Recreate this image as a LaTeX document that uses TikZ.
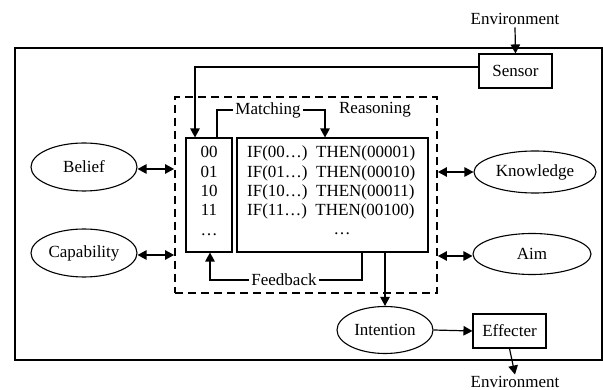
\documentclass[tikz,border=0pt]{standalone}
\usepackage{fontspec}
\setmainfont{Liberation Serif}
\usetikzlibrary{shapes.geometric,arrows.meta,calc}
\begin{document}
\begin{tikzpicture}[x=1pt,y=-1pt,
  every node/.style={font=\fontsize{17}{19}\selectfont},
  line/.style={line width=1.2pt},
  arr/.style={line width=1.2pt,-{Triangle[length=9pt,width=9.5pt]}},
  darr/.style={line width=1.2pt,{Triangle[length=9pt,width=9.5pt]}-{Triangle[length=9pt,width=9.5pt]}},
  oval/.style={draw,line width=1.1pt,ellipse,inner sep=0pt},
  boxn/.style={draw,line width=1.1pt,rectangle,inner sep=0pt},
  txt/.style={inner sep=2pt}]
\useasboundingbox (0,0) rectangle (603,390);
\draw[line width=1.2pt] (15,48) rectangle (602,360);
% dashed frame
\node[draw,line width=1.8pt,dash pattern=on 8pt off 5pt,minimum width=262pt,minimum height=196pt,inner sep=0pt] (frame) at (306,195) {};
% boxes
\node[boxn,minimum width=46pt,minimum height=114pt] (mem) at (209,195) {};
\node[boxn,minimum width=191pt,minimum height=114pt] (rules) at (332.5,195) {};
\foreach \t [count=\i] in {00,01,10,11,…}
  \node[inner sep=0pt,anchor=base] (m\i) at (209,{158+19.3*(\i-1)}) {\t};
\foreach \t [count=\i] in {IF(00…)\ \ THEN(00001),IF(01…)\ \ THEN(00010),IF(10…)\ \ THEN(00011),IF(11…)\ \ THEN(00100)}
  \node[inner sep=0pt,anchor=base west] (r\i) at (247,{158+19.3*(\i-1)}) {\t};
\node[inner sep=0pt,anchor=base] (r5) at (342,235) {…};
% ellipses
\node[oval,minimum width=106pt,minimum height=48pt] (belief) at (84,167) {Belief};
\node[oval,minimum width=106pt,minimum height=48pt] (capab) at (84,253) {Capability};
\node[oval,minimum width=122pt,minimum height=42pt] (know) at (535,172) {Knowledge};
\node[oval,minimum width=118pt,minimum height=41pt] (aim) at (532,254) {Aim};
\node[oval,minimum width=96pt,minimum height=47pt] (intent) at (385,330) {Intention};
% rect boxes
\node[boxn,minimum width=73pt,minimum height=34pt] (sensor) at (515.5,71) {Sensor};
\node[boxn,minimum width=73pt,minimum height=34pt] (effect) at (509.5,331) {Effecter};
% labels
\node[txt,anchor=base] (envt) at (515,25) {Environment};
\node[inner sep=1pt,anchor=base] (envb) at (515,387) {Environment};
\node[txt] (match) at (268,110) {Matching};
\node[txt] (reason) at (375,110) {Reasoning};
\node[txt] (fb) at (284,280) {Feedback};
% anchor points
\coordinate (bp) at ([yshift=-2pt]belief.east);
\coordinate (cp) at ([yshift=-2pt]capab.east);
\coordinate (ap) at ([yshift=-2pt]aim.west);
% connectors
\draw[arr] (envt.south) -- (sensor.north);
\draw[arr] ([yshift=4pt]sensor.west) -| ([xshift=-14pt]mem.north);
\draw[line] ([xshift=8pt]mem.north) |- (match.west);
\draw[arr] (match.east) -| ([xshift=-7.5pt]rules.north);
\draw[arr] (fb.west) -| ([xshift=1pt]mem.south);
\draw[line] (fb.east) -| ([xshift=29.5pt]rules.south);
\draw[arr] (intent.north |- rules.south) -- (intent.north);
\draw[arr] (intent.east) -- (effect.west);
\draw[arr] (effect.south) -- (envb.north);
\draw[darr] (bp) -- (frame.west |- bp);
\draw[darr] (cp) -- (frame.west |- cp);
\draw[darr] (frame.east |- know.west) -- (know.west);
\draw[darr] (frame.east |- ap) -- (ap);
\end{tikzpicture}
\end{document}
